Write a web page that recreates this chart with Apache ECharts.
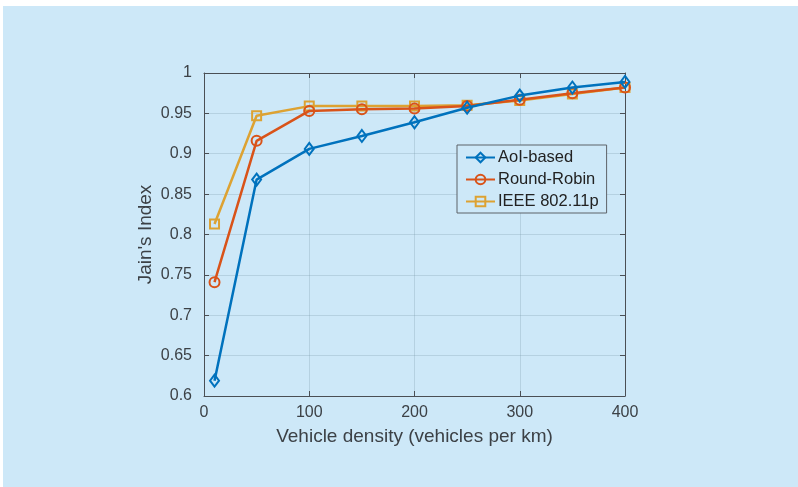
<!DOCTYPE html>
<html>
<head>
<meta charset="utf-8">
<script src="https://cdn.jsdelivr.net/npm/echarts@6/dist/echarts.min.js"></script>
<style>
  html, body { margin: 0; padding: 0; background: #ffffff; }
  #chart { width: 798px; height: 487px; }
</style>
</head>
<body>
<div id="chart"></div>
<script>
// ---- data ----
var xValues = [10, 50, 100, 150, 200, 250, 300, 350, 400];
var aoiBased = [0.619, 0.868, 0.906, 0.922, 0.939, 0.957, 0.972, 0.982, 0.989];
var roundRobin = [0.741, 0.916, 0.953, 0.955, 0.956, 0.959, 0.967, 0.975, 0.982];
var ieee80211p = [0.813, 0.947, 0.959, 0.959, 0.959, 0.960, 0.966, 0.974, 0.982];
var seriesNames = ['AoI-based', 'Round-Robin', 'IEEE 802.11p'];
var xTicks = [0, 100, 200, 300, 400];
var yTicks = [0.6, 0.65, 0.7, 0.75, 0.8, 0.85, 0.9, 0.95, 1];

function pairs(ys) { return xValues.map(function (x, i) { return [x, ys[i]]; }); }

var bg = '#cde8f8';
var axisColor = '#4a4f55';
var gridColor = 'rgba(120,150,165,0.28)';
var font = '"Liberation Sans", Arial, Helvetica, sans-serif';
var colors = ['#0072BD', '#D95319', '#DDA232'];
var symbols = ['diamond', 'circle', 'rect'];
var symbolSizes = [[9, 12], 10, 9];

var chart = echarts.init(document.getElementById('chart'), null, { renderer: 'canvas' });

function mkSeries(idx, data) {
  return {
    name: seriesNames[idx],
    type: 'line',
    data: pairs(data),
    symbol: symbols[idx],
    symbolSize: symbolSizes[idx],
    showAllSymbol: true,
    lineStyle: { color: colors[idx], width: 2.5 },
    itemStyle: { color: 'rgba(0,0,0,0)', borderColor: colors[idx], borderWidth: 2 },
    emphasis: { disabled: true },
    z: 3 + (2 - idx),
    animation: false
  };
}

var option = {
  animation: false,
  backgroundColor: '#ffffff',
  graphic: [{
    type: 'rect', left: 3, top: 6, z: -10,
    shape: { width: 795, height: 481 },
    style: { fill: bg }
  }],
  grid: { left: 204, top: 73, right: 173, bottom: 91, containLabel: false },
  legend: {
    orient: 'vertical',
    left: 457, top: 145,
    padding: [4, 8, 3, 8],
    itemGap: 5,
    itemWidth: 29, itemHeight: 12,
    backgroundColor: bg,
    borderColor: '#5d6368', borderWidth: 1,
    textStyle: { fontFamily: font, fontSize: 16.5, color: '#222222', padding: [0, 0, 0, -2] },
    data: seriesNames
  },
  xAxis: [{
    type: 'value', min: xTicks[0], max: xTicks[xTicks.length - 1], interval: 100,
    name: 'Vehicle density (vehicles per km)',
    nameLocation: 'middle', nameGap: 31, nameMoveOverlap: false,
    nameTextStyle: { fontFamily: font, fontSize: 19, color: '#3c4146' },
    axisLine: { show: true, onZero: false, lineStyle: { color: axisColor, width: 1 } },
    axisTick: { show: true, inside: true, length: 5, lineStyle: { color: axisColor } },
    axisLabel: { fontFamily: font, fontSize: 16, color: '#3c4146', margin: 9 },
    splitLine: { show: true, lineStyle: { color: gridColor, width: 1 } }
  }, {
    type: 'value', position: 'top', min: xTicks[0], max: xTicks[xTicks.length - 1], interval: 100,
    axisLine: { show: true, onZero: false, lineStyle: { color: axisColor, width: 1 } },
    axisTick: { show: true, inside: true, length: 5, lineStyle: { color: axisColor } },
    axisLabel: { show: false },
    splitLine: { show: false }
  }],
  yAxis: [{
    type: 'value', min: yTicks[0], max: yTicks[yTicks.length - 1], interval: 0.05,
    name: "Jain's Index",
    nameLocation: 'middle', nameGap: 49, nameMoveOverlap: false,
    nameTextStyle: { fontFamily: font, fontSize: 19, color: '#3c4146' },
    axisLine: { show: true, onZero: false, lineStyle: { color: axisColor, width: 1 } },
    axisTick: { show: true, inside: true, length: 5, lineStyle: { color: axisColor } },
    axisLabel: {
      fontFamily: font, fontSize: 16, color: '#3c4146', margin: 12,
      formatter: function (v) { return String(+v.toFixed(2)); }
    },
    splitLine: { show: true, lineStyle: { color: gridColor, width: 1 } }
  }, {
    type: 'value', position: 'right', min: yTicks[0], max: yTicks[yTicks.length - 1], interval: 0.05,
    axisLine: { show: true, onZero: false, lineStyle: { color: axisColor, width: 1 } },
    axisTick: { show: true, inside: true, length: 5, lineStyle: { color: axisColor } },
    axisLabel: { show: false },
    splitLine: { show: false }
  }],
  series: [
    mkSeries(0, aoiBased),
    mkSeries(1, roundRobin),
    mkSeries(2, ieee80211p)
  ]
};
chart.setOption(option);
</script>
</body>
</html>
